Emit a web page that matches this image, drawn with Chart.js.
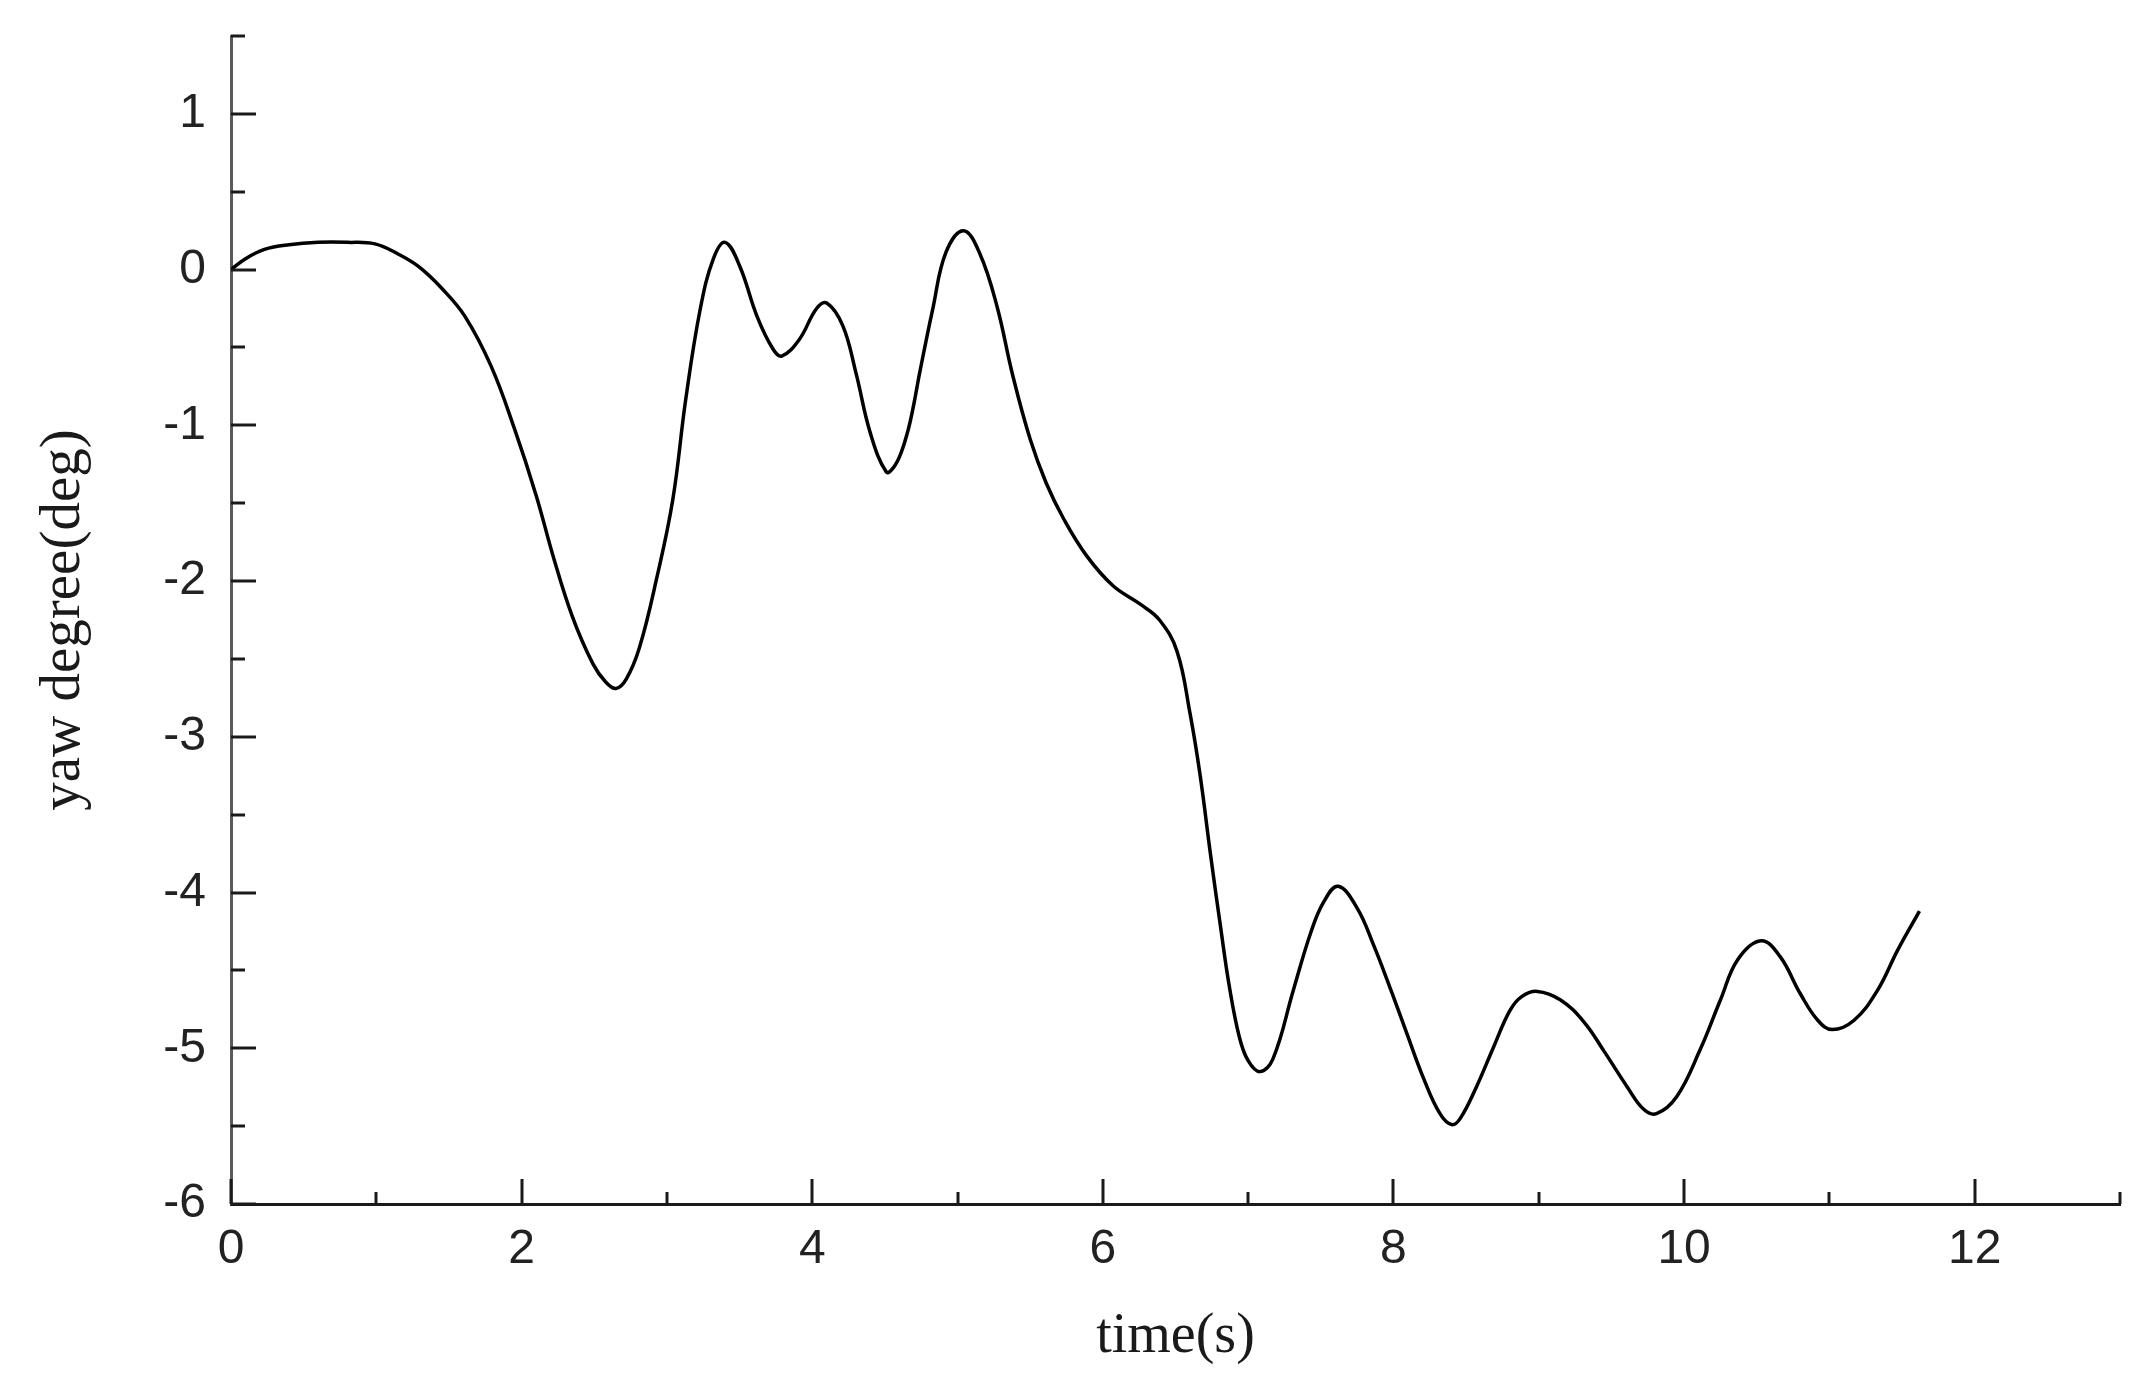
<!DOCTYPE html>
<html>
<head>
<meta charset="utf-8">
<script src="https://cdn.jsdelivr.net/npm/chart.js@4/dist/chart.umd.min.js"></script>
<style>
  html, body { margin: 0; padding: 0; background: #ffffff; }
  #wrap { width: 2152px; height: 1397px; }
</style>
</head>
<body>
<div id="wrap"><canvas id="c" width="2152" height="1397"></canvas></div>
<script>
// ---- data ----
const timeS = [
  0.00, 0.10, 0.23, 0.40, 0.60, 0.80, 0.99, 1.15, 1.29, 1.45,
  1.61, 1.79, 1.95, 2.10, 2.22, 2.35, 2.49, 2.58, 2.65, 2.72,
  2.81, 2.93, 3.04, 3.13, 3.23, 3.32, 3.40, 3.50, 3.62, 3.73,
  3.79, 3.91, 4.03, 4.10, 4.21, 4.30, 4.40, 4.51, 4.56, 4.61,
  4.66, 4.70, 4.74, 4.83, 4.92, 5.04, 5.15, 5.27, 5.38, 5.50,
  5.61, 5.73, 5.89, 6.07, 6.26, 6.39, 6.51, 6.60, 6.67, 6.74,
  6.81, 6.87, 6.94, 7.00, 7.08, 7.17, 7.31, 7.43, 7.52, 7.62,
  7.75, 7.86, 7.98, 8.09, 8.21, 8.32, 8.40, 8.46, 8.57, 8.69,
  8.80, 8.88, 8.99, 9.15, 9.31, 9.45, 9.61, 9.72, 9.81, 9.95,
  10.11, 10.25, 10.37, 10.53, 10.66, 10.80, 10.92, 11.02, 11.17, 11.33,
  11.47, 11.62
];
const yawDeg = [
  0.00, 0.07, 0.13, 0.16, 0.175, 0.175, 0.165, 0.10, 0.02, -0.12,
  -0.30, -0.62, -1.02, -1.45, -1.85, -2.23, -2.53, -2.65, -2.69, -2.63,
  -2.43, -1.98, -1.48, -0.83, -0.25, 0.07, 0.175, 0.025, -0.30, -0.51,
  -0.555, -0.45, -0.25, -0.215, -0.36, -0.66, -1.05, -1.30, -1.27, -1.18,
  -1.03, -0.86, -0.66, -0.25, 0.11, 0.25, 0.11, -0.23, -0.68, -1.09,
  -1.37, -1.60, -1.84, -2.03, -2.15, -2.25, -2.45, -2.85, -3.25, -3.75,
  -4.22, -4.60, -4.93, -5.08, -5.15, -5.07, -4.63, -4.26, -4.06, -3.96,
  -4.10, -4.33, -4.62, -4.90, -5.20, -5.42, -5.49, -5.45, -5.25, -4.99,
  -4.76, -4.67, -4.635, -4.69, -4.83, -5.02, -5.25, -5.39, -5.42, -5.31,
  -5.01, -4.69, -4.43, -4.31, -4.41, -4.65, -4.82, -4.88, -4.82, -4.63,
  -4.37, -4.12
];
const xTickLabels = [0, 2, 4, 6, 8, 10, 12];
const yTickLabels = [-6, -5, -4, -3, -2, -1, 0, 1];
const xTitle = 'time(s)';
const yTitle = 'yaw degree(deg)';

const points = timeS.map((t, i) => ({ x: t, y: yawDeg[i] }));

// inward tick marks drawn with the library's scales
const inwardTicks = {
  id: 'inwardTicks',
  afterDatasetsDraw(chart) {
    const { ctx, scales: { x, y } } = chart;
    ctx.save();
    ctx.strokeStyle = '#1a1a1a';
    ctx.lineWidth = 3;
    ctx.lineCap = 'butt';
    const yAxisX = x.getPixelForValue(0);
    for (let v = -6; v <= 1.5001; v += 0.5) {
      const py = Math.round(y.getPixelForValue(v));
      const major = Math.abs(v - Math.round(v)) < 1e-6;
      const len = major ? 25 : 14;
      ctx.beginPath();
      ctx.moveTo(yAxisX, py);
      ctx.lineTo(yAxisX + len, py);
      ctx.stroke();
    }
    const xAxisY = y.getPixelForValue(-6);
    for (let v = 0; v <= 13.0001; v += 1) {
      const px = Math.round(x.getPixelForValue(v));
      const major = v % 2 === 0;
      const len = major ? 25 : 12;
      ctx.beginPath();
      ctx.moveTo(px, xAxisY);
      ctx.lineTo(px, xAxisY - len);
      ctx.stroke();
    }
    ctx.restore();
  }
};

new Chart(document.getElementById('c'), {
  type: 'line',
  data: {
    datasets: [{
      data: points,
      borderColor: '#000000',
      borderWidth: 3.5,
      pointRadius: 0,
      fill: false,
      tension: 0.4
    }]
  },
  options: {
    responsive: false,
    animation: false,
    events: [],
    layout: { padding: { left: 0, top: 36, right: 32, bottom: 0 } },
    plugins: { legend: { display: false }, tooltip: { enabled: false } },
    scales: {
      x: {
        type: 'linear',
        min: 0,
        max: 13,
        afterFit: (s) => { s.height = 1397 - 1204; s.paddingLeft = 0; s.paddingRight = 0; },
        grid: { display: true, drawOnChartArea: false, drawTicks: false, color: 'rgba(0,0,0,0)' },
        border: { display: true, color: '#1a1a1a', width: 3 },
        ticks: {
          stepSize: 1,
          autoSkip: false,
          maxRotation: 0,
          padding: 17,
          color: '#222222',
          font: { family: '"Liberation Sans", Arial, sans-serif', size: 48 },
          callback: (v) => xTickLabels.includes(v) ? String(v) : ''
        },
        title: {
          display: true,
          text: xTitle,
          color: '#1a1a1a',
          font: { family: '"Liberation Serif", "Times New Roman", serif', size: 56 },
          padding: { top: 0, bottom: 26 }
        }
      },
      y: {
        type: 'linear',
        min: -6,
        max: 1.5,
        afterFit: (s) => { s.width = 231; s.paddingTop = 0; s.paddingBottom = 0; },
        grid: { display: true, drawOnChartArea: false, drawTicks: false, color: 'rgba(0,0,0,0)' },
        border: { display: true, color: '#5a5a5a', width: 3 },
        ticks: {
          stepSize: 0.5,
          autoSkip: false,
          padding: 25,
          color: '#222222',
          font: { family: '"Liberation Sans", Arial, sans-serif', size: 48 },
          callback: (v) => yTickLabels.includes(v) ? String(v) : ''
        },
        title: {
          display: true,
          text: yTitle,
          color: '#1a1a1a',
          font: { family: '"Liberation Serif", "Times New Roman", serif', size: 57 },
          padding: { top: 30, bottom: 0 }
        }
      }
    }
  },
  plugins: [inwardTicks]
});
</script>
</body>
</html>
